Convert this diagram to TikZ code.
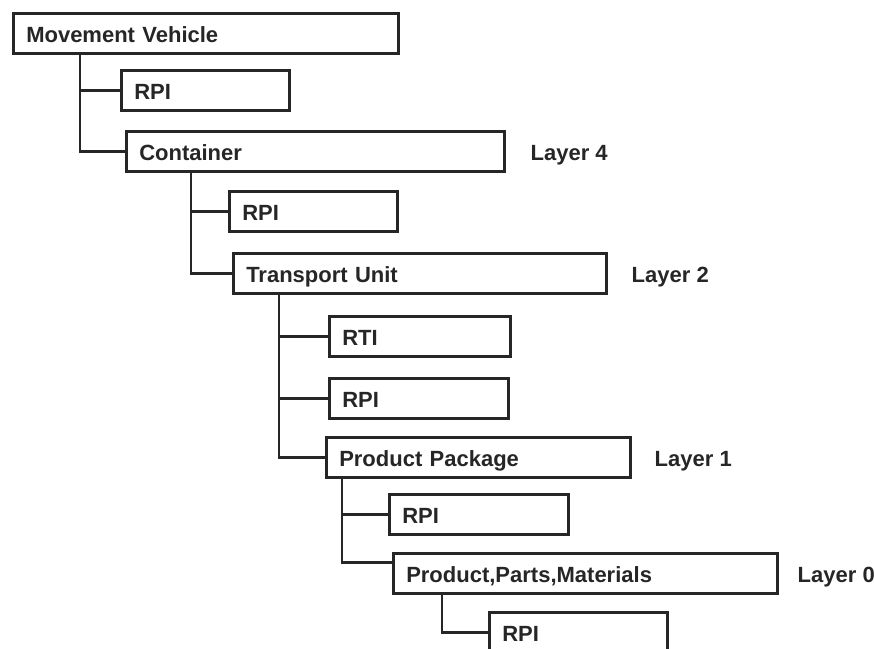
\documentclass[tikz,border=0pt]{standalone}
\usepackage{fontspec}
\setmainfont{Liberation Sans}
\usetikzlibrary{positioning}
\definecolor{ink}{HTML}{262626}

\begin{document}
\begin{tikzpicture}[x=1pt,y=-1pt]
    \tikzstyle{box} = [draw=ink, line width=2.5pt, text=ink, anchor=north west,
        inner xsep=13pt, inner ysep=0pt, minimum height=40pt,
        text height=18pt, text depth=0pt, align=left,
        font=\fontsize{22}{26}\selectfont\bfseries]
    \tikzstyle{ann} = [text=ink, inner sep=0pt, text height=18pt, text depth=0pt,
        font=\fontsize{22}{26}\selectfont\bfseries]
    \tikzstyle{link} = [draw=ink, line width=2.5pt]
    \useasboundingbox[fill=white] (0,0) rectangle (874,648);
    \clip (0,0) rectangle (874,648);

    \node[box, text width=359pt] (1) at (12,12) {Movement Vehicle};
    \node[box, text width=142pt] (2) at (120,69) {RPI};
    \node[box, text width=352pt] (3) at (125,130) {Container};
    \node[box, text width=142pt] (4) at (228,190) {RPI};
    \node[box, text width=347pt] (5) at (232,252) {Transport Unit};
    \node[box, text width=155pt] (6) at (328,315) {RTI};
    \node[box, text width=153pt] (7) at (328,377) {RPI};
    \node[box, text width=278pt] (8) at (325,436) {Product Package};
    \node[box, text width=153pt] (9) at (388,493) {RPI};
    \node[box, text width=358pt] (10) at (392,552) {Product,Parts,Materials};
    \node[box, text width=152pt] (11) at (488,611) {RPI};

    \node[ann, right=25pt of 3] (L4) {Layer 4};
    \node[ann, right=24pt of 5] (L2) {Layer 2};
    \node[ann, right=23pt of 8] (L1) {Layer 1};
    \node[ann, right=19pt of 10] (L0) {Layer 0};

    % trunks
    \coordinate (t1) at ([xshift=68pt]1.south west);
    \coordinate (t2) at ([xshift=66pt]3.south west);
    \coordinate (t3) at ([xshift=47pt]5.south west);
    \coordinate (t4) at ([xshift=17pt]8.south west);
    \coordinate (t5) at ([xshift=50pt]10.south west);

    \draw[link] (t1) |- (3.west);
    \draw[link] (t1 |- 2.west) -- (2.west);
    \draw[link] (t2) |- (5.west);
    \draw[link] (t2 |- 4.west) -- (4.west);
    \draw[link] (t3) |- (8.west);
    \draw[link] (t3 |- 6.west) -- (6.west);
    \draw[link] (t3 |- 7.west) -- (7.west);
    \draw[link] (t4) |- ([yshift=11pt]10.west);
    \draw[link] (t4 |- 9.west) -- (9.west);
    \draw[link] (t5) |- (11.west);
\end{tikzpicture}
\end{document}
